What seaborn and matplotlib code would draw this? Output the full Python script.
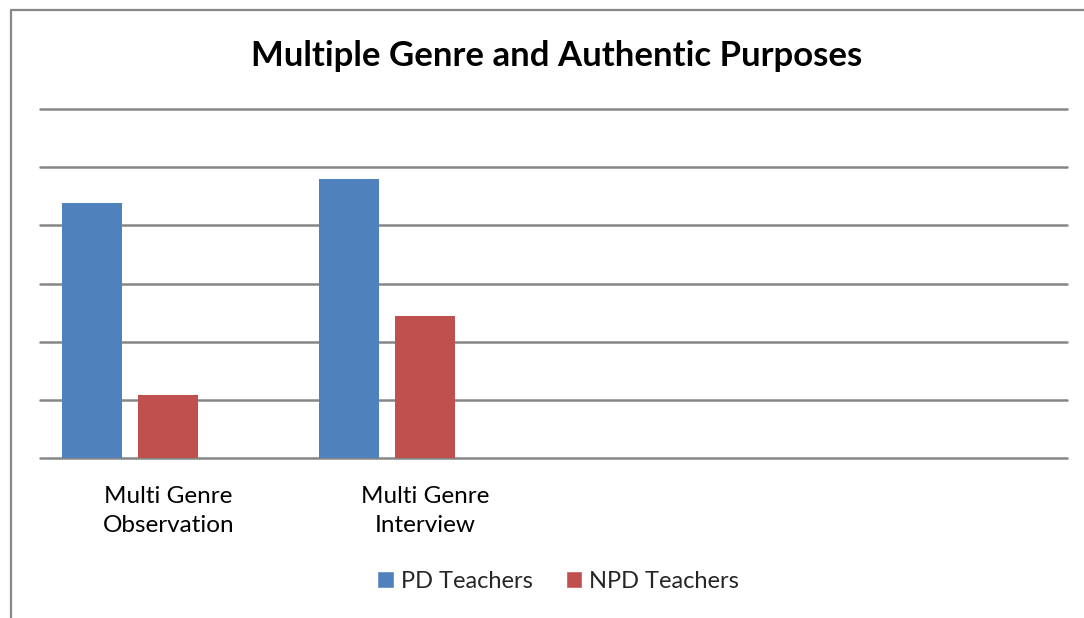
import matplotlib
matplotlib.use("Agg")
import matplotlib.pyplot as plt
import seaborn as sns
import pandas as pd
import numpy as np
from matplotlib.patches import Patch
from matplotlib.lines import Line2D

categories = ["Multi Genre\nObservation", "Multi Genre\nInterview", " ", "  "]
series = ["PD Teachers", "NPD Teachers", "Series3"]
pd_values = [4.39, 4.79, np.nan, np.nan]
npd_values = [1.08, 2.44, np.nan, np.nan]
s3_values = [np.nan, np.nan, np.nan, np.nan]
colors = ["#4F81BD", "#C0504D", "#9BBB59"]
title = "Multiple Genre and Authentic Purposes"

rows = []
for name, vals in zip(series, [pd_values, npd_values, s3_values]):
    for c, v in zip(categories, vals):
        rows.append({"category": c, "series": name, "value": v})
df = pd.DataFrame(rows)

sns.set_theme(style="white")
plt.rcParams['font.family'] = ['Lato', 'DejaVu Sans']

fig = plt.figure(figsize=(10.84, 6.18), dpi=100)
ax = fig.add_axes([40/1084, 1-458/618, (1067-40)/1084, (458-109)/618])

sns.barplot(data=df, x="category", y="value", hue="series", order=categories,
            hue_order=series, palette=colors, width=0.887, gap=0.21,
            errorbar=None, ax=ax, legend=False, saturation=1, zorder=3,
            linewidth=0)

ax.set_xlim(-0.5, 3.5)
ax.set_ylim(0, 6)
ax.set_yticks(np.arange(0, 7, 1))
ax.set_yticklabels([])
ax.tick_params(axis="y", length=0)
ax.tick_params(axis="x", length=0, pad=20, labelsize=17.5, labelcolor="black")
ax.yaxis.grid(True, color="#868686", linewidth=1.8, zorder=0)
for gl in ax.get_ygridlines():
    gl.set_clip_on(False)
ax.set_axisbelow(True)
for s in ax.spines.values():
    s.set_visible(False)
ax.set_xlabel("")
ax.set_ylabel("")
for lbl in ax.get_xticklabels():
    lbl.set_linespacing(1.5)

fig.text(557/1084, 1-56/618, title, ha="center", va="center",
         fontsize=25, fontweight="bold", color="black")

handles = [Patch(facecolor=colors[0]), Patch(facecolor=colors[1])]
fig.legend(handles, series[:2], loc="center", bbox_to_anchor=(558/1084, 1-581/618),
           ncol=2, frameon=False, fontsize=17, handlelength=0.7, handleheight=0.7,
           handletextpad=0.3, columnspacing=1.4)

# outer chart border
fig.add_artist(Line2D([11/1084, 11/1084], [0, 1-10/618], transform=fig.transFigure,
                      color="#888888", linewidth=1.6))
fig.add_artist(Line2D([11/1084, 1], [1-10/618, 1-10/618], transform=fig.transFigure,
                      color="#888888", linewidth=1.6))

fig.savefig("out.png", dpi=100)
